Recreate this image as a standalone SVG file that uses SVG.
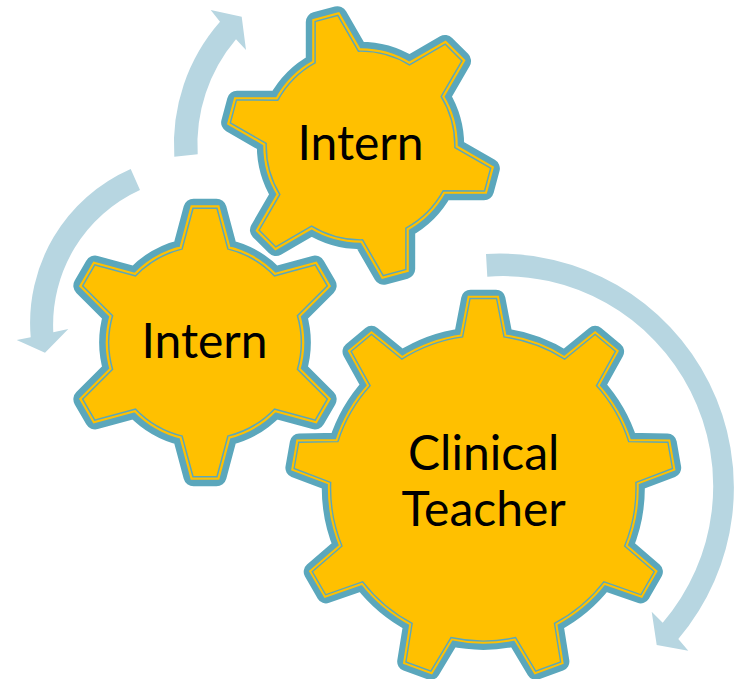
<svg xmlns="http://www.w3.org/2000/svg" xmlns:xlink="http://www.w3.org/1999/xlink" width="739" height="679" viewBox="0 0 739 679">
<style>
.o{fill:none;stroke:#5BA7BC;stroke-width:20.5;stroke-linejoin:round}
.y{fill:none;stroke:#FFC000;stroke-width:7.4;stroke-linejoin:miter;stroke-miterlimit:8}
.t{fill:none;stroke:#5BA7BC;stroke-width:3;stroke-linejoin:miter;stroke-miterlimit:8}
.f{fill:#FFC000;stroke:none}
.big .o{stroke-width:19}
.big .y{stroke-width:6.8}
.big .t{stroke-width:2.8}
.a{fill:#B7D6E1;stroke:none}
text{font-family:"Lato","Open Sans",sans-serif;font-size:48px;fill:#000;text-anchor:middle}
</style>
<defs>
<path id="g6" d="M-22.3,-92.9L-11.4,-133.5L11.4,-133.5L22.3,-92.9A95.5,95.5 0 0 1 69.3,-65.7L109.9,-76.7L121.4,-56.8L91.6,-27.1A95.5,95.5 0 0 1 91.6,27.1L121.4,56.8L109.9,76.7L69.3,65.7A95.5,95.5 0 0 1 22.3,92.9L11.4,133.5L-11.4,133.5L-22.3,92.9A95.5,95.5 0 0 1 -69.3,65.7L-109.9,76.7L-121.4,56.8L-91.6,27.1A95.5,95.5 0 0 1 -91.6,-27.1L-121.4,-56.8L-109.9,-76.7L-69.3,-65.7A95.5,95.5 0 0 1 -22.3,-92.9Z"/>
<path id="g9" d="M-20.1,-150.7L-12.7,-189.1L12.7,-189.1L20.1,-150.7A152,152 0 0 1 81.4,-128.3L111.8,-153L131.3,-136.7L112.3,-102.5A152,152 0 0 1 144.9,-46L184,-45.4L188.4,-20.3L151.9,-6.4A152,152 0 0 1 140.5,57.9L170.1,83.5L157.3,105.6L120.4,92.7A152,152 0 0 1 70.4,134.7L76.6,173.3L52.7,182L32.6,148.5A152,152 0 0 1 -32.6,148.5L-52.7,182L-76.6,173.3L-70.4,134.7A152,152 0 0 1 -120.4,92.7L-157.3,105.6L-170.1,83.5L-140.5,57.9A152,152 0 0 1 -151.9,-6.4L-188.4,-20.3L-184,-45.4L-144.9,-46A152,152 0 0 1 -112.3,-102.5L-131.3,-136.7L-111.8,-153L-81.4,-128.3A152,152 0 0 1 -20.1,-150.7Z"/>
</defs>
<g id="connectors">
<path class="a" d="M174.3,156.7A186,186 0 0 1 220,21.7L210.7,10L241.7,16.7L246,50L236,39.3A163,163 0 0 0 197.7,154.3Z"/>
<path class="a" d="M130.7,169A168,168 0 0 0 30.7,337.3L16.7,340L45,352.7L68.3,329L53.3,332.3A148,148 0 0 1 140,190Z"/>
<path class="a" d="M486,254A234,234 0 0 1 678.3,639L688.3,650.7L656.7,645L651.7,611.7L662.7,622.7A210,210 0 0 0 487.3,276.7Z"/>
</g>
<g id="gear-intern-top">
<g transform="translate(360.5 145.5) rotate(-15) scale(.98)">
<use href="#g6" class="o"/><use href="#g6" class="y"/><use href="#g6" class="t"/><use href="#g6" class="f"/>
</g>
<text x="360.5" y="160">Intern</text>
</g>
<g id="gear-intern-left">
<g transform="translate(205 342.5)">
<use href="#g6" class="o"/><use href="#g6" class="y"/><use href="#g6" class="t"/><use href="#g6" class="f"/>
</g>
<text x="204.5" y="357.7">Intern</text>
</g>
<g id="gear-clinical-teacher">
<g class="big" transform="translate(483.3 488.3)">
<use href="#g9" class="o"/><use href="#g9" class="y"/><use href="#g9" class="t"/><use href="#g9" class="f"/>
</g>
<text x="483.7" y="470">Clinical</text>
<text x="483.7" y="526">Teacher</text>
</g>
</svg>
